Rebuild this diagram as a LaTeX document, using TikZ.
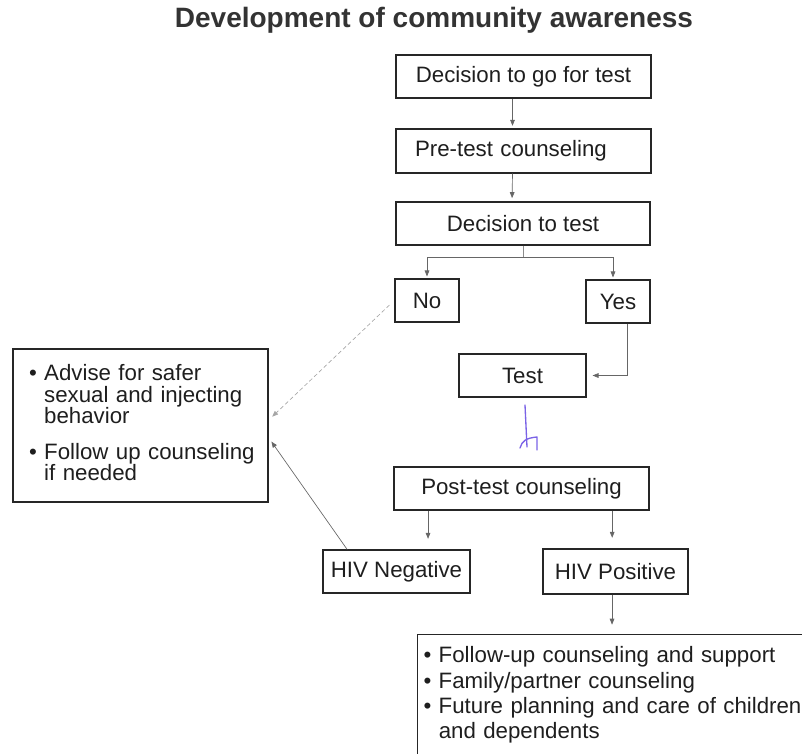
\documentclass[tikz,border=0pt]{standalone}
\usepackage{fontspec}
\setmainfont{Liberation Sans}
\usetikzlibrary{arrows.meta,calc}
\newcommand\boxfont{\fontsize{16.7}{20}\selectfont}
\newcommand\advfont{\fontsize{16.7}{16}\selectfont}
\newcommand\fupfont{\fontsize{16.7}{19}\selectfont}
\definecolor{ink}{HTML}{1E1E1E}
\definecolor{pen}{HTML}{7A62E6}
\begin{document}
\begin{tikzpicture}[x=0.75pt,y=-0.75pt,
 box/.style={draw=black!85, line width=0.8pt, inner sep=0pt, font=\boxfont, text=ink},
 arr/.style={draw=black!60, line width=0.5pt, -{Triangle[length=4.5pt,width=3.5pt]}},
 link/.style={draw=black!45, line width=0.5pt},
]
\useasboundingbox (0,0) rectangle (802,753);
\clip (0,0) rectangle (802,753);

\node[font=\bfseries\fontsize{21}{24}\selectfont, text=black!80] (title) at (434,20) {Development of community awareness};

\node[box, minimum width=191.25pt, minimum height=32.25pt] (b1) at (523.5,76.5) {Decision to go for test};
\node[box, minimum height=33pt, text width=162.75pt, inner xsep=14.25pt, align=left] (b2) at (523.5,151) {Pre-test counseling};
\node[box, minimum width=190.5pt, minimum height=32.25pt] (b3) at (523,223.5) {Decision to test};
\node[box, minimum width=48pt, minimum height=32.25pt] (no) at (427,300.5) {No};
\node[box, minimum width=48pt, minimum height=32.25pt] (yes) at (618,301.5) {Yes};
\node[box, minimum width=95.25pt, minimum height=32.25pt] (test) at (522.5,375.5) {Test};
\node[box, minimum width=191.25pt, minimum height=32.25pt] (post) at (521.5,488.5) {Post-test counseling};
\node[box, minimum width=110.25pt, minimum height=32.25pt] (neg) at (396.5,571.5) {HIV Negative};
\node[box, minimum width=108.75pt, minimum height=33.75pt] (pos) at (615.5,571.5) {HIV Positive};

\node[box, minimum height=114.75pt, text width=167.25pt, inner xsep=12pt, align=left, font=\advfont] (adv) at (140.5,425.5)
 {\mbox{\textbullet\ Advise for safer}\\ \mbox{\phantom{\textbullet\ }sexual and injecting}\\ \mbox{\phantom{\textbullet\ }behavior}\\[11pt]
  \mbox{\textbullet\ Follow up counseling}\\ \mbox{\phantom{\textbullet\ }if needed}\rule[-4pt]{0pt}{0pt}};

\node[box, anchor=north west, text width=285pt, inner xsep=4.5pt, inner ysep=9pt, align=left, font=\fupfont] (fup) at (417,634)
 {\mbox{\textbullet\ Follow-up counseling and support}\\ \mbox{\textbullet\ Family/partner counseling}\\ \mbox{\textbullet\ Future planning and care of children}\\ \mbox{\phantom{\textbullet\ }and dependents}\rule[-40pt]{0pt}{0pt}};

% connectors
\draw[arr, shorten >=2pt] ([xshift=-8.25pt]b1.south) -- ([xshift=-8.25pt]b2.north);
\draw[arr, shorten >=2.5pt] ([xshift=-8.25pt]b2.south) -- ([xshift=-8.25pt]b3.north);
\coordinate (br) at (523,257);
\draw[link] (b3.south) -- (br);
\draw[arr, shorten >=1.5pt] (br) -| (no.north);
\draw[arr, shorten >=1.5pt] (br) -| ([xshift=-3.75pt]yes.north);
\draw[arr, shorten >=4.5pt] ([xshift=6.75pt]yes.south) |- (test.east);
\draw[arr, draw=black!35, dash pattern=on 3pt off 2pt, shorten >=3.75pt] ([shift={(-3.75pt,-3.4pt)}]no.west) -- ([yshift=4pt]adv.east);
\draw[arr, shorten >=3.75pt] ([xshift=-37pt]neg.north) -- ([yshift=-9pt]adv.east);
\draw[arr, shorten >=8pt] ([xshift=-70.1pt]post.south) -- ([xshift=-70.1pt]post.south |- neg.north);
\draw[arr, shorten >=8pt] ([xshift=68pt]post.south) -- ([xshift=68pt]post.south |- pos.north);
\draw[arr, shorten >=7pt] ([xshift=-2.6pt]pos.south) -- ([xshift=-2.6pt]pos.south |- fup.north);

% handwritten mark
\draw[pen, line width=1pt, line cap=round] (525,405) -- (527,447);
\draw[pen, line width=1pt, line cap=round, line join=round] (520,448) .. controls (522,441) and (526,438) .. (537,437) -- (537,450);
\end{tikzpicture}
\end{document}
